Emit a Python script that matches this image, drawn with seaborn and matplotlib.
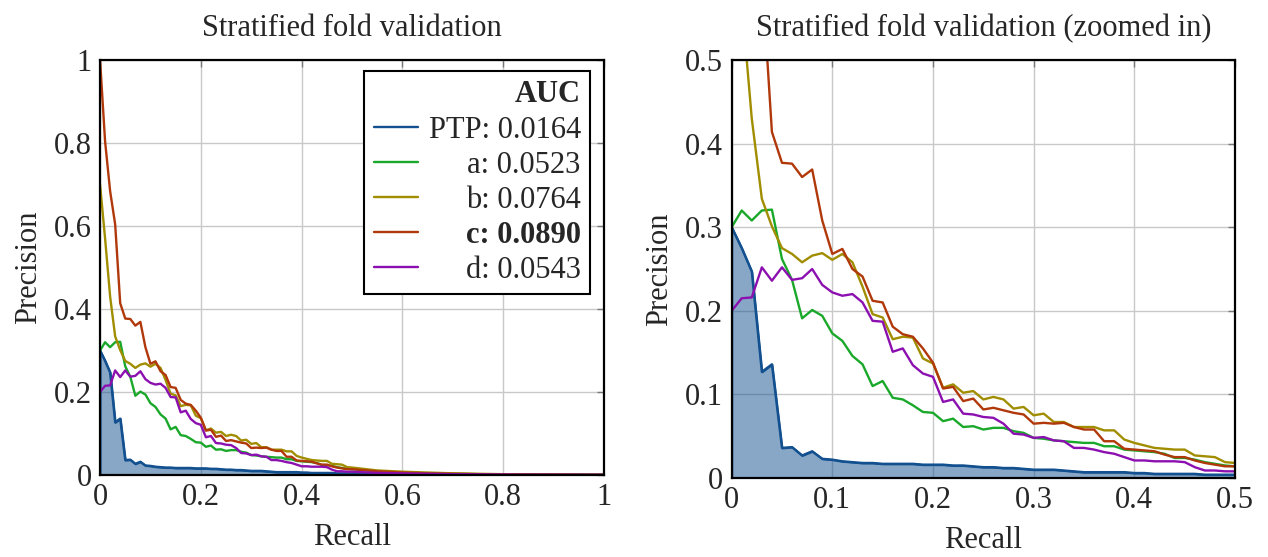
import numpy as np
import pandas as pd
import matplotlib
matplotlib.use("Agg")
import matplotlib.pyplot as plt
import seaborn as sns
from matplotlib.ticker import FuncFormatter, MultipleLocator

# ------------------------------------------
# data (recall step 0.01 up to 0.5, coarser tail)
# ------------------------------------------
recall_head = list(np.round(np.arange(51) * 0.01, 2))
recall_tail = [0.55, 0.6, 0.65, 0.7, 0.75, 0.8, 0.9, 1.0]
recall = recall_head + recall_tail

prec_ptp = [0.300, 0.275, 0.247, 0.127, 0.136, 0.036, 0.037, 0.027, 0.032, 0.023,
            0.022, 0.020, 0.019, 0.018, 0.018, 0.017, 0.017, 0.017, 0.017, 0.016,
            0.016, 0.016, 0.015, 0.015, 0.014, 0.013, 0.013, 0.012, 0.012, 0.011,
            0.010, 0.010, 0.010, 0.009, 0.008, 0.007, 0.007, 0.007, 0.007, 0.007,
            0.006, 0.006, 0.005, 0.005, 0.005, 0.005, 0.005, 0.004, 0.004, 0.004,
            0.004,
            0.003, 0.002, 0.0015, 0.001, 0.001, 0.0008, 0.0005, 0.0003]
prec_a = [0.300, 0.320, 0.308, 0.320, 0.321, 0.262, 0.237, 0.191, 0.201, 0.194,
          0.173, 0.164, 0.146, 0.136, 0.110, 0.116, 0.096, 0.094, 0.087, 0.079,
          0.078, 0.068, 0.071, 0.061, 0.062, 0.058, 0.060, 0.060, 0.056, 0.054,
          0.048, 0.047, 0.045, 0.044, 0.043, 0.042, 0.042, 0.038, 0.038, 0.034,
          0.033, 0.032, 0.031, 0.029, 0.024, 0.024, 0.022, 0.019, 0.017, 0.015,
          0.014,
          0.009, 0.006, 0.004, 0.003, 0.002, 0.0015, 0.001, 0.0005]
prec_b = [0.700, 0.570, 0.430, 0.334, 0.301, 0.275, 0.268, 0.258, 0.266, 0.269,
          0.261, 0.268, 0.258, 0.229, 0.196, 0.192, 0.166, 0.169, 0.168, 0.143,
          0.137, 0.108, 0.112, 0.102, 0.104, 0.094, 0.097, 0.094, 0.083, 0.085,
          0.075, 0.077, 0.067, 0.067, 0.061, 0.061, 0.061, 0.057, 0.057, 0.046,
          0.042, 0.039, 0.036, 0.035, 0.034, 0.034, 0.027, 0.026, 0.025, 0.019,
          0.018,
          0.011, 0.008, 0.006, 0.004, 0.003, 0.002, 0.001, 0.0005]
prec_c = [1.000, 0.804, 0.684, 0.604, 0.414, 0.377, 0.376, 0.360, 0.369, 0.308,
          0.268, 0.274, 0.250, 0.241, 0.212, 0.210, 0.181, 0.172, 0.169, 0.155,
          0.138, 0.107, 0.109, 0.092, 0.095, 0.082, 0.084, 0.081, 0.078, 0.076,
          0.065, 0.066, 0.065, 0.066, 0.061, 0.058, 0.058, 0.044, 0.044, 0.035,
          0.034, 0.033, 0.032, 0.028, 0.025, 0.025, 0.021, 0.018, 0.016, 0.014,
          0.014,
          0.009, 0.006, 0.004, 0.003, 0.002, 0.0015, 0.001, 0.0005]
prec_d = [0.200, 0.215, 0.216, 0.252, 0.236, 0.252, 0.237, 0.239, 0.250, 0.231,
          0.222, 0.218, 0.220, 0.210, 0.188, 0.187, 0.151, 0.155, 0.135, 0.125,
          0.121, 0.091, 0.094, 0.077, 0.076, 0.073, 0.072, 0.065, 0.053, 0.052,
          0.048, 0.049, 0.045, 0.044, 0.036, 0.036, 0.034, 0.031, 0.029, 0.025,
          0.021, 0.021, 0.020, 0.020, 0.020, 0.019, 0.013, 0.009, 0.009, 0.008,
          0.008,
          0.005, 0.004, 0.003, 0.002, 0.0015, 0.001, 0.0008, 0.0005]

methods = ["PTP", "a", "b", "c", "d"]
auc = ["0.0164", "0.0523", "0.0764", "0.0890", "0.0543"]
colors = ["#12508f", "#1aa82a", "#a08d00", "#b0380a", "#8c10b0"]

df = pd.concat([
    pd.DataFrame({"recall": recall, "precision": p, "method": m})
    for m, p in zip(methods, [prec_ptp, prec_a, prec_b, prec_c, prec_d])
], ignore_index=True)

# ------------------------------------------
# style
# ------------------------------------------
sns.set_theme(style="whitegrid")
plt.rcParams["font.family"] = ["Liberation Serif", "DejaVu Serif"]
FS = 22

fig = plt.figure(figsize=(12.68, 5.57), dpi=100)
ax1 = fig.add_axes([0.0789, 0.1472, 0.3975, 0.745])
ax2 = fig.add_axes([0.577, 0.1418, 0.397, 0.7505])

fmt = FuncFormatter(lambda v, p: f"{v:g}")

for ax, lim, step, title in [(ax1, 1.0, 0.2, "Stratified fold validation"),
                             (ax2, 0.5, 0.1, "Stratified fold validation (zoomed in)")]:
    ax.fill_between(recall, prec_ptp, 0, facecolor=(0.071, 0.314, 0.561, 0.5),
                    edgecolor=colors[0], linewidth=1.5, zorder=1)
    sns.lineplot(data=df, x="recall", y="precision", hue="method",
                 palette=dict(zip(methods, colors)), estimator=None, sort=False,
                 linewidth=1.7, legend=False, ax=ax, zorder=2)
    ax.set_xlim(0, lim)
    ax.set_ylim(0, lim)
    ax.xaxis.set_major_locator(MultipleLocator(step))
    ax.yaxis.set_major_locator(MultipleLocator(step))
    ax.xaxis.set_major_formatter(fmt)
    ax.yaxis.set_major_formatter(fmt)
    ax.grid(True, color="#c8c8c8", linewidth=1)
    for s in ax.spines.values():
        s.set_color("black")
        s.set_linewidth(1.6)
    ax.tick_params(direction="in", length=5, width=1, color="#777777",
                   labelsize=FS, pad=6, top=True, right=True)
    ax.set_title(title, fontsize=FS, pad=17)
    ax.set_xlabel("Recall", fontsize=FS, labelpad=8)
    ax.set_ylabel("Precision", fontsize=FS, labelpad=8)

# ------------------------------------------
# legend with right-aligned labels
# ------------------------------------------
labels = [f"{m}: {a}" for m, a in zip(methods, auc)]
handles = ax1.get_lines()[:5]
leg = ax1.legend(handles, labels, title="AUC", loc="upper right",
                 bbox_to_anchor=(0.972, 0.973), borderaxespad=0, frameon=True,
                 fancybox=False, edgecolor="black", framealpha=1, fontsize=FS,
                 title_fontproperties={"weight": "bold", "size": FS},
                 alignment="right", handlelength=1.45, handletextpad=0.35,
                 labelspacing=0.2, borderpad=0.3)
leg.get_frame().set_linewidth(1.5)
leg.get_texts()[3].set_fontweight("bold")

fig.canvas.draw()
renderer = fig.canvas.get_renderer()
ext = [t.get_window_extent(renderer) for t in leg.get_texts()]
x_right = max(e.x1 for e in ext)
W, H = fig.bbox.width, fig.bbox.height
for t, e, lab in zip(leg.get_texts(), ext, labels):
    weight = t.get_fontweight()
    t.set_visible(False)
    fig.text(x_right / W, (e.y0 + e.y1) / 2 / H, lab, ha="right", va="center",
             fontsize=FS, fontweight=weight, zorder=10)

fig.savefig("out.png", dpi=100)
